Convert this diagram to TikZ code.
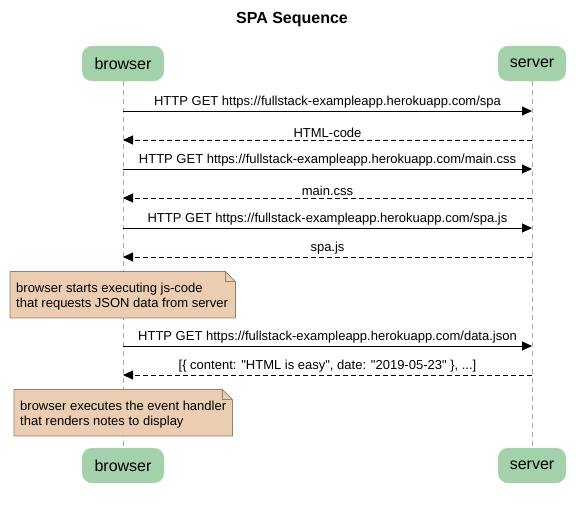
\documentclass[tikz,border=0pt]{standalone}
\usepackage{fontspec}
\setmainfont{Liberation Sans}
\usetikzlibrary{arrows.meta,backgrounds}
\definecolor{partfill}{RGB}{163,209,171}
\definecolor{partdraw}{RGB}{188,224,196}
\definecolor{notefill}{RGB}{235,205,177}
\definecolor{notedraw}{RGB}{150,128,105}
\definecolor{lifecol}{RGB}{170,170,170}
\begin{document}
\begin{tikzpicture}[x=1pt,y=-1pt,
  part/.style={draw=partdraw, fill=partfill, rounded corners=10pt, minimum height=35pt, inner sep=0pt, font=\fontsize{16}{19}\selectfont},
  notearea/.style={anchor=north west, inner sep=0pt, minimum height=46pt},
  notetext/.style={anchor=west, inner sep=0pt, align=left, font=\fontsize{13}{15}\selectfont},
  notebox/.style={draw=notedraw, fill=notefill, line width=0.8pt},
  lifeline/.style={draw=lifecol, dash pattern=on 5pt off 4pt, line width=0.8pt},
  req/.style={line width=1pt, -{Triangle[length=10pt,width=9pt]}},
  resp/.style={line width=1pt, dash pattern=on 5pt off 3pt, -{Triangle[length=10pt,width=9pt]}},
  lbl/.style={midway, above, inner sep=2pt, font=\fontsize{13}{15}\selectfont}]
\useasboundingbox (0,0) rectangle (581,507);
\node[font=\bfseries\fontsize{16}{19}\selectfont] (title) at (292,19.5) {SPA Sequence};
\node[part, minimum width=82pt] (bt) at (123,63.5) {browser};
\node[part, minimum width=68pt] (st) at (532,63.5) {server};
\node[part, minimum width=82pt] (bb) at (123,465.5) {browser};
\node[part, minimum width=68pt] (sb) at (532,465.5) {server};
\node[notearea, minimum width=225pt] (n1) at (10,271.5) {};
\node[notearea, minimum width=218pt] (n2) at (14,389.5) {};
\begin{pgfonlayer}{background}
\draw[lifeline] (bt.south) -- (bb.north);
\draw[lifeline] (st.south) -- (sb.north);
\foreach \n in {n1,n2}{
  \draw[notebox] (\n.north west) -- ([xshift=-10pt]\n.north east) -- ([yshift=-10pt]\n.north east) -- (\n.south east) -- (\n.south west) -- cycle;
  \draw[notedraw, line width=0.8pt] ([xshift=-10pt]\n.north east) |- ([yshift=-10pt]\n.north east);
}
\end{pgfonlayer}
\node[notetext] (t1) at ([xshift=6pt,yshift=-1.5pt]n1.west) {browser starts executing js-code\\that requests JSON data from server};
\node[notetext] (t2) at ([xshift=6pt,yshift=-1.5pt]n2.west) {browser executes the event handler\\that renders notes to display};
\foreach \i/\y in {1/111,2/140,3/169,4/198,5/228,6/257,7/346,8/375}{
  \coordinate (b\i) at (123,\y);
  \coordinate (s\i) at (532,\y);
}
\draw[req] (b1) -- (s1) node[lbl] {HTTP GET https://fullstack-exampleapp.herokuapp.com/spa};
\draw[resp] (s2) -- (b2) node[lbl] {HTML-code};
\draw[req] (b3) -- (s3) node[lbl] {HTTP GET https://fullstack-exampleapp.herokuapp.com/main.css};
\draw[resp] (s4) -- (b4) node[lbl] {main.css};
\draw[req] (b5) -- (s5) node[lbl] {HTTP GET https://fullstack-exampleapp.herokuapp.com/spa.js};
\draw[resp] (s6) -- (b6) node[lbl] {spa.js};
\draw[req] (b7) -- (s7) node[lbl] {HTTP GET https://fullstack-exampleapp.herokuapp.com/data.json};
\draw[resp] (s8) -- (b8) node[lbl] {[\{ content: \textquotedbl HTML is easy\textquotedbl, date: \textquotedbl 2019-05-23\textquotedbl\ \}, ...]};
\end{tikzpicture}
\end{document}
